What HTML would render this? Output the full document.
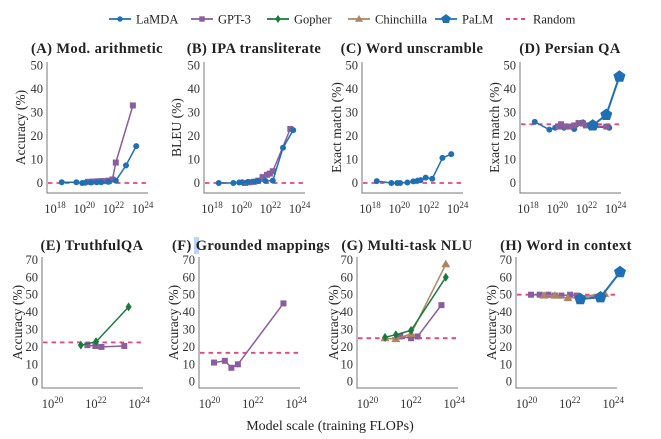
<!DOCTYPE html>
<html><head><meta charset="utf-8"><style>
html,body{margin:0;padding:0;background:#fff;}
svg{display:block;font-family:"Liberation Serif",serif;}
</style></head><body>
<svg id="chart" width="661" height="439" viewBox="0 0 661 439">
<g id="legend"></g>
<rect x="194" y="237" width="5" height="17" fill="#b9d5f7"></rect>
<g id="panels"></g>
<text x="330" y="430" text-anchor="middle" font-size="14" fill="#222">Model scale (training FLOPs)</text>
</svg>
<script>
// ---- data (x = log10 training FLOPs, y = %) ----
const panelTitles = ["(A) Mod. arithmetic","(B) IPA transliterate","(C) Word unscramble","(D) Persian QA","(E) TruthfulQA","(F) Grounded mappings","(G) Multi-task NLU","(H) Word in context"];
const panelYLabels = ["Accuracy (%)","BLEU (%)","Exact match (%)","Exact match (%)","Accuracy (%)","Accuracy (%)","Accuracy (%)","Accuracy (%)"];
const randomBaseline = [0,0,0,25,22.6,16.6,25,50];
const row1YTicks = [0,10,20,30,40,50];
const row2YTicks = [0,10,20,30,40,50,60,70];
const row1XTicks = [18,20,22,24];
const row2XTicks = [20,22,24];

const lamdaX_A = [18.6,19.6,20,20.2,20.6,21,21.3,21.8,22.3,23.0,23.7];
const lamdaY_A = [0.3,0.3,0,0.1,0.2,0.3,0.3,0.5,1,7.5,15.7];
const gpt3X_A = [20.4,20.7,21,21.3,21.5,21.8,22.07,22.3,23.47];
const gpt3Y_A = [0.5,0.6,0.7,0.8,0.8,1,1.5,8.7,33];

const lamdaX_B = [18.6,19.6,20,20.2,20.6,21,21.3,21.8,22.3,23.0,23.7];
const lamdaY_B = [0,0,0.2,0.3,0.5,0.6,0.8,0.9,1,15,22.5];
const gpt3X_B = [20.4,20.7,21,21.3,21.6,21.9,22.1,22.3,23.5];
const gpt3Y_B = [0,0.3,0.5,1,2.5,3.5,4,5,23];

const lamdaX_C = [18.6,19.6,20,20.2,20.7,21.1,21.4,21.6,21.95,22.4,23.1,23.7];
const lamdaY_C = [0.8,0,0,0,0.2,0.7,1,1.2,2.3,1.8,10.7,12.3];

const lamdaX_D = [18.6,19.6,20,20.6,21.3,21.9,22.4,23.7];
const lamdaY_D = [26,22.7,23.5,23.5,23,25.8,24,23.5];
const gpt3X_D = [20.2,20.4,20.7,21,21.3,21.6,21.9,22.1,23.5];
const gpt3Y_D = [24,25,24,24,24.5,25.5,25.3,24.5,24];
const palmX_D = [22.57,23.5,24.4];
const palmY_D = [24.5,29,45.3];

const gopherX_E = [21.4,22.1,23.6];
const gopherY_E = [21,23,43];
const gpt3X_E = [21.7,22.07,22.35,23.4];
const gpt3Y_E = [21,20.5,20,20.5];

const gpt3X_F = [20.3,20.8,21.1,21.4,23.5];
const gpt3Y_F = [11,12,8,10,45];

const chinX_G = [20.9,21.4,22.1,23.7];
const chinY_G = [25,24.5,27.5,67.5];
const gopherX_G = [20.9,21.4,22.1,23.7];
const gopherY_G = [25.5,27,29.5,60];
const gpt3X_G = [21.6,22.1,22.4,23.5];
const gpt3Y_G = [26,25,26,44];

const gpt3X_H = [20.3,20.7,21.1,21.4,21.7,22.1,22.4,23.5];
const gpt3Y_H = [50,50,50,49.5,49.5,50,49.5,49];
const chinX_H = [20.9,21.4,22.0,23.7];
const chinY_H = [49.5,49.5,48,50.5];
const palmX_H = [22.57,23.5,24.4];
const palmY_H = [47.5,48.5,63];

const COLORS = {lamda:"#1f6fb4", gpt3:"#8a5d9c", gopher:"#187a3c", chin:"#b08462", palm:"#1f6fb4", random:"#e8457c"};

const panelSeries = [
  [["gpt3",gpt3X_A,gpt3Y_A],["lamda",lamdaX_A,lamdaY_A]],
  [["gpt3",gpt3X_B,gpt3Y_B],["lamda",lamdaX_B,lamdaY_B]],
  [["lamda",lamdaX_C,lamdaY_C]],
  [["lamda",lamdaX_D,lamdaY_D],["gpt3",gpt3X_D,gpt3Y_D],["palm",palmX_D,palmY_D]],
  [["gpt3",gpt3X_E,gpt3Y_E],["gopher",gopherX_E,gopherY_E]],
  [["gpt3",gpt3X_F,gpt3Y_F]],
  [["gpt3",gpt3X_G,gpt3Y_G],["chin",chinX_G,chinY_G],["gopher",gopherX_G,gopherY_G]],
  [["gpt3",gpt3X_H,gpt3Y_H],["chin",chinX_H,chinY_H],["palm",palmX_H,palmY_H]]
];

const NS="http://www.w3.org/2000/svg";
function mk(tag, attrs, parent){const e=document.createElementNS(NS,tag);for(const k in attrs)e.setAttribute(k,attrs[k]);if(parent)parent.appendChild(e);return e;}

function marker(kind, cx, cy, parent, scale){
  const s=scale||1, c=COLORS[kind]; let m;
  if(kind==="lamda"){m=mk("circle",{cx:cx,cy:cy,r:3*s,fill:c},parent);}
  else if(kind==="gpt3"){m=mk("rect",{x:cx-3*s,y:cy-3*s,width:6*s,height:6*s,fill:c},parent);}
  else if(kind==="gopher"){m=mk("polygon",{points:`${cx},${cy-4.5*s} ${cx+3*s},${cy} ${cx},${cy+4.5*s} ${cx-3*s},${cy}`,fill:c},parent);}
  else if(kind==="chin"){m=mk("polygon",{points:`${cx},${cy-4.5*s} ${cx+4.5*s},${cy+3*s} ${cx-4.5*s},${cy+3*s}`,fill:c},parent);}
  else {let p=[];for(let i=0;i<5;i++){const a=-Math.PI/2+i*2*Math.PI/5;p.push((cx+5.5*s*Math.cos(a)).toFixed(1)+","+(cy+5.5*s*Math.sin(a)).toFixed(1));}m=mk("polygon",{points:p.join(" "),fill:c},parent);}
  
  
  return m;
}

// legend
const legendItems=[["lamda","LaMDA",109],["gpt3","GPT-3",191],["gopher","Gopher",267],["chin","Chinchilla",348],["palm","PaLM",435],["random","Random",506]];
const lg=document.getElementById("legend");
legendItems.forEach(it=>{
  const g=mk("g",{},lg);
  
  
  const y=19;
  if(it[0]==="random"){mk("line",{x1:it[2],y1:y,x2:it[2]+22,y2:y,stroke:COLORS.random,"stroke-width":2,"stroke-dasharray":"4,3.5"},g);}
  else{mk("line",{x1:it[2],y1:y,x2:it[2]+22,y2:y,stroke:COLORS[it[0]],"stroke-width":1.8},g);marker(it[0],it[2]+11,y,g,0.9);}
  const t=mk("text",{x:it[2]+27,y:y+4.5,"font-size":12.5,fill:"#222"},g);t.textContent=it[1];
});

// panels
const pg=document.getElementById("panels");
const lefts=[47,204,362,520];
panelTitles.forEach((title,i)=>{
  const row=i<4?0:1, col=i%4, L=lefts[col]-(row?5:0)+(row&&col===3?1:0);
  const g=mk("g",{},pg);
  
  
  let xs, ys, top, bottom, yTicks, xTicks, W=101;
  if(row===0){
    top=62; bottom=193; yTicks=row1YTicks; xTicks=row1XTicks;
    xs=v=>L+6+(v-18)*14.6;
    ys=v=>183-v*2.35;
  } else {
    top=257; bottom=388; yTicks=row2YTicks; xTicks=row2XTicks;
    xs=v=>L+8.5+(v-20)*21.7;
    ys=v=>381.7-v*1.74;
  }
  // title
  const tcx=(row===1&&col===1)?L+52:L+50;
  const tt=mk("text",{x:tcx,y:row?250:53,"text-anchor":"middle","font-size":14.5,"font-weight":"bold","letter-spacing":"0.4",fill:"#222"},g);
  tt.textContent=title;
  
  
  // axes
  const ax=mk("path",{d:`M${L},${top} V${bottom} H${L+W}`,fill:"none",stroke:"#777","stroke-width":1},g);
  
  
  yTicks.forEach(v=>{
    const t=mk("text",{x:L-4,y:ys(v)+4,"text-anchor":"end","font-size":12.5,fill:"#333"},g);
    t.textContent=v;
    
    
  });
  xTicks.forEach(v=>{
    const t=mk("text",{x:xs(v)+2,y:bottom+20,"text-anchor":"middle","font-size":12.5,fill:"#333"},g);
    t.textContent="10";
    const sp=mk("tspan",{dy:-5,"font-size":9},t);sp.textContent=v;
    
    
  });
  // y label
  const yl=[21,177,337,495][col]-(row?3:0);
  const cy=(top+bottom)/2;
  const yt=mk("text",{x:yl,y:cy,"text-anchor":"middle","font-size":13.5,fill:"#222",transform:`rotate(-90 ${yl} ${cy})`,dy:4},g);
  yt.textContent=panelYLabels[i];
  
  
  // random
  const rl=mk("line",{x1:L+1,y1:ys(randomBaseline[i]),x2:L+W,y2:ys(randomBaseline[i]),stroke:COLORS.random,"stroke-width":1.8,"stroke-dasharray":"4.5,4"},g);
  
  
  // series
  panelSeries[i].forEach(s=>{
    const [kind,X,Y]=s;
    const sg=mk("g",{},g);
    
    
    const pts=X.map((x,j)=>xs(x).toFixed(1)+","+ys(Y[j]).toFixed(1)).join(" ");
    mk("polyline",{points:pts,fill:"none",stroke:COLORS[kind],"stroke-width":kind==="palm"?2:1.5},sg);
    X.forEach((x,j)=>marker(kind,xs(x),ys(Y[j]),sg,kind==="palm"?1.15:1));
  });
});
</script>
</body></html>
